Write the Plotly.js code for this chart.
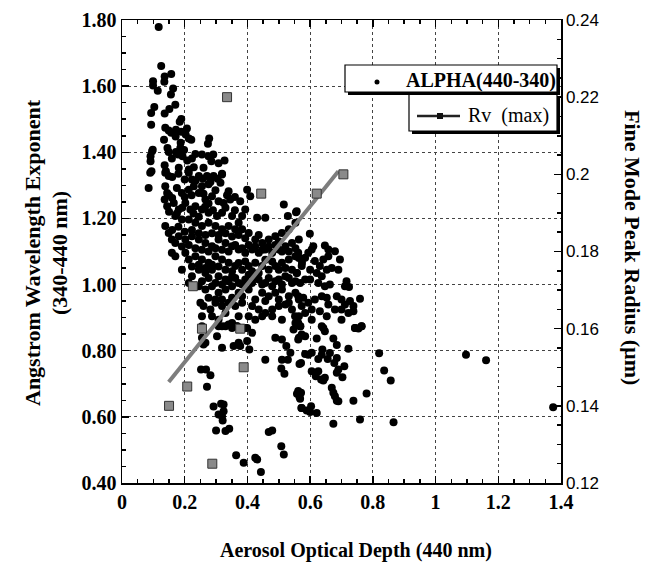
<!DOCTYPE html>
<html><head><meta charset="utf-8">
<script src="https://cdn.plot.ly/plotly-3.0.1.min.js"></script>
<style>body{margin:0;background:#fff}#chart{width:649px;height:563px}</style>
</head><body><div id="chart"></div>
<script>
// ALPHA(440-340) vs AOD(440), grouped by region
const aodA = [0.117,0.125,0.136,0.135,0.157,0.099,0.099,0.114,0.163,0.156,0.103,0.093,0.151,0.170,0.136,0.189,0.184,0.093,
  0.138,0.149,0.157,0.172,0.189,0.207,0.203,0.213,0.221,0.134,0.171,0.145,0.187,0.186,0.198,0.172,0.149,0.179,0.193,0.159,0.098,0.091,0.091,0.208,0.223,0.234,0.255,0.276,0.291,0.278,0.274,0.308,0.327,0.136,0.140,0.181,0.213,0.229,0.260,0.285,0.319,0.094,0.096];
const alphaA = [1.779,1.661,1.629,1.613,1.637,1.615,1.602,1.586,1.593,1.575,1.537,1.519,1.531,1.544,1.517,1.501,1.492,1.483,
  1.474,1.466,1.459,1.468,1.462,1.472,1.454,1.442,1.438,1.438,1.448,1.413,1.429,1.413,1.407,1.401,1.401,1.393,1.388,1.381,1.408,1.388,1.373,1.375,1.381,1.395,1.393,1.388,1.393,1.442,1.426,1.367,1.375,1.361,1.343,1.353,1.348,1.355,1.353,1.373,1.335,1.343,1.403];
const aodB = [0.090,0.138,0.149,0.213,0.223,0.245,0.271,0.292,0.319,0.314,0.276,0.340,0.085,0.138,0.144,0.136,0.144,0.175,0.191,0.213,0.229,0.245,0.255,0.266,0.287,0.308,0.324,0.345,0.377,0.399,0.409,0.393,0.383,0.372,0.351,0.319,0.303,0.276,0.255,0.234,0.218,0.202,0.181,0.165,0.170,0.191,0.213,0.234,0.255,0.276,0.298,0.319,0.340,0.361,0.383,0.404,0.425,0.447,0.468,0.489,0.510,0.532,0.553,0.516,0.555,0.529,0.431,0.457,
  0.138,0.149,0.159,0.170,0.181,0.202,0.223,0.245,0.266,0.287,0.308,0.330,0.351,0.372,0.393,0.415,0.436,0.457,0.479,0.500,0.521,0.542,0.564,
  0.159,0.170,0.202,0.213,0.234,0.255,0.276,0.298,0.319,0.340,0.361,0.383,0.404,0.425,0.447,0.468,0.489,0.510,0.532,0.553,0.574,
  0.191,0.223,0.245,0.266,0.287,0.308,0.330,0.351,0.372,0.393,0.415,0.436,0.457,0.479,0.500,0.521,0.542,0.558,
  0.213,0.245,0.266,0.287,0.308,0.330,0.351,0.372,0.404,0.447,0.468,0.489,0.510,0.532,0.553,0.564,
  0.250,0.260,0.282,0.298,0.319,0.340,0.361,0.383,0.415,0.436,0.457,0.479,0.500,0.521,0.542,
  0.255,0.287,0.308,0.330,0.351,0.372,0.404,0.425,0.447,0.479,0.510,0.553,0.564,
  0.255,0.319,0.340,0.367,0.393];
const alphaB = [1.338,1.338,1.328,1.338,1.318,1.328,1.328,1.328,1.333,1.308,1.303,1.282,1.292,1.297,1.277,1.257,1.237,1.292,1.277,1.287,1.297,1.277,1.297,1.257,1.267,1.252,1.247,1.257,1.252,1.287,1.267,1.227,1.207,1.187,1.207,1.217,1.207,1.217,1.227,1.237,1.227,1.247,1.227,1.247,1.207,1.197,1.197,1.187,1.177,1.187,1.177,1.167,1.177,1.167,1.167,1.156,1.136,1.126,1.136,1.146,1.156,1.167,1.187,1.242,1.219,1.207,1.202,1.202,
  1.177,1.156,1.136,1.126,1.146,1.136,1.146,1.136,1.126,1.116,1.136,1.126,1.116,1.106,1.096,1.106,1.096,1.106,1.096,1.106,1.116,1.126,1.136,
  1.096,1.086,1.096,1.076,1.086,1.076,1.066,1.086,1.076,1.066,1.056,1.045,1.056,1.066,1.056,1.045,1.056,1.066,1.076,1.086,1.066,
  1.045,1.025,1.045,1.035,1.045,1.025,1.015,1.025,1.005,1.015,1.005,1.015,1.005,0.995,1.015,1.025,1.005,1.035,
  1.005,0.995,0.985,0.995,0.975,0.985,0.995,0.975,0.985,0.975,0.965,0.975,0.985,0.965,0.975,0.955,
  0.945,0.935,0.925,0.945,0.935,0.945,0.935,0.945,0.935,0.925,0.914,0.925,0.935,0.940,0.925,
  0.904,0.904,0.894,0.914,0.884,0.904,0.904,0.894,0.904,0.904,0.894,0.884,0.904,
  0.874,0.874,0.879,0.874,0.869];
// dense core (overlapping points)
const aodF = [0.160,0.180,0.200,0.235,0.258,0.282,0.305,
  0.150,0.160,0.200,0.222,0.260,0.276,0.298,0.335,0.360,
  0.150,0.175,0.192,0.228,0.245,0.265,0.290,0.330,0.360,
  0.160,0.180,0.200,0.223,0.245,0.266,0.287,0.308,0.330,0.351,0.372,0.393,0.436,0.500,
  0.191,0.213,0.234,0.255,0.276,0.298,0.319,0.340,0.361,0.383,0.404,0.425,0.447,0.468,0.489,0.510,0.532,0.553,
  0.223,0.245,0.266,0.287,0.308,0.330,0.351,0.372,0.393,0.415,0.436,0.457,0.479,0.500,0.521,0.542,0.564,
  0.255,0.276,0.298,0.319,0.340,0.361,0.383,0.404,0.425,0.447,0.468,0.489,0.510,0.532,0.553,
  0.276,0.298,0.319,0.351,0.383,0.425,0.457,0.500,0.532];
const alphaF = [1.325,1.335,1.318,1.315,1.320,1.310,1.320,
  1.270,1.262,1.265,1.270,1.275,1.245,1.285,1.270,1.265,
  1.220,1.215,1.232,1.215,1.205,1.235,1.225,1.232,1.225,
  1.165,1.175,1.160,1.165,1.155,1.150,1.155,1.150,1.155,1.145,1.150,1.140,1.150,1.130,
  1.115,1.120,1.110,1.105,1.100,1.110,1.105,1.100,1.120,1.110,1.120,1.115,1.105,1.115,1.120,1.100,1.100,1.110,
  1.055,1.060,1.050,1.060,1.055,1.045,1.040,1.065,1.070,1.040,1.035,1.075,1.070,1.045,1.050,1.045,1.080,
  1.010,1.020,1.005,1.000,1.010,1.020,1.000,1.030,1.025,1.000,1.020,1.010,1.000,1.020,1.010,
  0.960,0.955,0.955,0.960,0.965,0.955,0.950,0.955,0.945];
const aodC = [0.308,0.330,0.351,0.367,0.399,0.415,0.303,0.319,0.356,0.372,0.377,0.255,0.266,0.260,0.399,0.406,0.489,0.510,0.524,0.537,0.547,0.564,0.569,0.457,0.510,0.529,0.508,0.518,0.566,0.252,0.268,0.282,0.271,0.292,0.316,0.324,0.324,0.308,0.319,0.321,0.300,0.330,0.342,0.468,0.479,0.508,0.516,0.364,0.388,0.425,0.431,0.443,0.558,0.566,0.572];
const alphaC = [0.874,0.874,0.869,0.874,0.869,0.854,0.844,0.809,0.814,0.824,0.814,0.839,0.824,0.819,0.829,0.804,0.839,0.834,0.814,0.794,0.864,0.839,0.874,0.773,0.773,0.773,0.746,0.730,0.760,0.743,0.743,0.726,0.691,0.631,0.640,0.637,0.617,0.607,0.602,0.589,0.559,0.557,0.564,0.554,0.559,0.511,0.486,0.484,0.461,0.476,0.471,0.433,0.670,0.660,0.627];
const aodD = [0.557,0.599,0.610,0.605,0.647,0.658,0.679,0.695,0.658,0.642,0.631,0.615,0.594,0.584,0.573,0.562,0.557,0.600,0.621,0.637,0.653,0.669,0.690,0.584,0.600,0.568,0.626,0.647,0.663,0.716,0.711,0.724,0.562,0.578,0.594,0.615,0.637,0.653,0.658,0.685,0.700,0.711,0.727,0.738,0.759,0.573,0.584,0.605,0.631,0.653,0.679,0.700,0.722,0.738,0.562,0.605,0.637,0.700,0.743,0.764,0.552];
const alphaD = [1.222,1.154,1.116,1.106,1.118,1.106,1.101,1.076,1.086,1.076,1.056,1.071,1.096,1.081,1.056,1.096,1.035,1.045,1.035,1.025,1.045,1.050,1.045,1.015,1.015,1.005,1.005,0.995,1.000,1.010,0.995,0.993,0.965,0.960,0.945,0.955,0.965,0.960,0.940,0.965,0.955,0.940,0.950,0.935,0.957,0.935,0.914,0.925,0.919,0.904,0.925,0.925,0.914,0.919,0.884,0.894,0.874,0.894,0.869,0.874,0.904];
const aodE = [0.568,0.562,0.573,0.584,0.621,0.642,0.647,0.674,0.685,0.722,0.743,0.754,0.764,0.584,0.594,0.605,0.626,0.639,0.637,0.656,0.663,0.677,0.685,0.709,0.690,0.685,0.703,0.571,0.605,0.626,0.618,0.635,0.647,0.642,0.669,0.674,0.679,0.685,0.690,0.562,0.571,0.568,0.573,0.589,0.600,0.603,0.621,0.738,0.780,0.674,0.759,0.820,0.836,0.857,0.866,1.097,1.161,1.375];
const alphaE = [0.874,0.834,0.849,0.844,0.837,0.869,0.859,0.837,0.817,0.806,0.869,0.867,0.874,0.790,0.788,0.794,0.775,0.804,0.788,0.775,0.793,0.763,0.778,0.753,0.743,0.733,0.720,0.763,0.738,0.738,0.723,0.713,0.718,0.710,0.688,0.673,0.662,0.649,0.647,0.678,0.673,0.655,0.627,0.619,0.615,0.632,0.612,0.649,0.671,0.579,0.592,0.792,0.740,0.710,0.584,0.788,0.771,0.629];

// Rv (max) – fine mode peak radius (right axis)
const aodRv = [0.150,0.208,0.226,0.255,0.288,0.335,0.377,0.388,0.444,0.621,0.706];
const rvMax = [0.140,0.145,0.171,0.160,0.125,0.220,0.160,0.150,0.195,0.195,0.200];
// fitted line through Rv (max)
const fitAod = [0.149,0.690];
const fitRv = [0.1462,0.2008];

// tick labels
const xTickVals = [0,0.2,0.4,0.6,0.8,1.0,1.2,1.4];
const xTickText = ["0","0.2","0.4","0.6","0.8","1","1.2","1.4"];
const yTickVals = [0.4,0.6,0.8,1.0,1.2,1.4,1.6,1.8];
const yTickText = ["0.40","0.60","0.80","1.00","1.20","1.40","1.60","1.80"];
const y2TickVals = [0.12,0.14,0.16,0.18,0.20,0.22,0.24];
const y2TickText = ["0.12","0.14","0.16","0.18","0.2","0.22","0.24"];

const aod = [].concat(aodA, aodB, aodF, aodC, aodD, aodE);
const alpha = [].concat(alphaA, alphaB, alphaF, alphaC, alphaD, alphaE);

const serif = 'Liberation Serif';
const sans = 'Liberation Sans';
const W = 649, H = 563, ML = 122, MR = 88, MT = 20, MB = 80;
const PW = W - ML - MR, PH = H - MT - MB;
const px = v => (v - ML) / PW;
const py = v => (H - MB - v) / PH;

const traces = [
  {x: aod, y: alpha, type: 'scatter', mode: 'markers', yaxis: 'y',
   marker: {color: '#000', size: 8}, hoverinfo: 'skip'},
  {x: fitAod, y: fitRv, type: 'scatter', mode: 'lines', yaxis: 'y2',
   line: {color: '#7d7d7d', width: 4}, hoverinfo: 'skip'},
  {x: aodRv, y: rvMax, type: 'scatter', mode: 'markers', yaxis: 'y2',
   marker: {symbol: 'square', size: 9, color: '#8a8a8a', line: {color: '#333', width: 1}}, hoverinfo: 'skip'}
];

const axBase = {
  ticks: 'inside', ticklen: 7, tickwidth: 1.5, tickcolor: '#000',
  showline: true, linewidth: 1.5, linecolor: '#000', zeroline: false,
  tickmode: 'array'
};

const layout = {
  width: W, height: H, showlegend: false,
  margin: {l: ML, r: MR, t: MT, b: MB},
  paper_bgcolor: '#fff', plot_bgcolor: '#fff',
  xaxis: Object.assign({}, axBase, {
    range: [0, 1.4], tickvals: xTickVals, ticktext: xTickText, mirror: 'ticks',
    showgrid: true, gridcolor: '#444', griddash: 'dot', gridwidth: 1,
    tickfont: {family: serif, size: 20, weight: 'bold', color: '#000'},
    minor: {tickmode: 'linear', tick0: 0, dtick: 0.05, ticks: 'inside', ticklen: 4, tickcolor: '#000', showgrid: false}
  }),
  yaxis: Object.assign({}, axBase, {
    range: [0.4, 1.8], tickvals: yTickVals, ticktext: yTickText,
    showgrid: true, gridcolor: '#444', griddash: 'dot', gridwidth: 1,
    tickfont: {family: serif, size: 20, weight: 'bold', color: '#000'},
    minor: {tickmode: 'linear', tick0: 0.4, dtick: 0.05, ticks: 'inside', ticklen: 4, tickcolor: '#000', showgrid: false}
  }),
  yaxis2: Object.assign({}, axBase, {
    overlaying: 'y', side: 'right', range: [0.12, 0.24],
    tickvals: y2TickVals, ticktext: y2TickText, showgrid: false,
    tickfont: {family: sans, size: 17, color: '#000'},
    minor: {tickmode: 'linear', tick0: 0.12, dtick: 0.005, ticks: 'inside', ticklen: 4, tickcolor: '#000', showgrid: false}
  }),
  shapes: [
    {type: 'rect', xref: 'paper', yref: 'paper', x0: px(412), x1: px(560), y0: py(134), y1: py(96), fillcolor: '#000', line: {width: 0}},
    {type: 'rect', xref: 'paper', yref: 'paper', x0: px(409), x1: px(557), y0: py(131), y1: py(93), fillcolor: '#fff', line: {color: '#000', width: 1.2}},
    {type: 'rect', xref: 'paper', yref: 'paper', x0: px(348), x1: px(560), y0: py(95), y1: py(68), fillcolor: '#000', line: {width: 0}},
    {type: 'rect', xref: 'paper', yref: 'paper', x0: px(345), x1: px(557), y0: py(92), y1: py(65), fillcolor: '#fff', line: {color: '#000', width: 1.2}},
    {type: 'circle', xref: 'paper', yref: 'paper', x0: px(374.5), x1: px(379.5), y0: py(84.5), y1: py(79.5), fillcolor: '#000', line: {width: 0}},
    {type: 'line', xref: 'paper', yref: 'paper', x0: px(417), x1: px(460), y0: py(116), y1: py(116), line: {color: '#222', width: 2.5}},
    {type: 'rect', xref: 'paper', yref: 'paper', x0: px(437), x1: px(443), y0: py(119), y1: py(113), fillcolor: '#111', line: {width: 0}}
  ],
  annotations: [
    {text: 'ALPHA(440-340)', xref: 'paper', yref: 'paper', x: px(404), y: py(80), xanchor: 'left', yanchor: 'middle', showarrow: false,
     font: {family: serif, size: 20, weight: 'bold', color: '#000'}},
    {text: 'Rv  (max)', xref: 'paper', yref: 'paper', x: px(466), y: py(115), xanchor: 'left', yanchor: 'middle', showarrow: false,
     font: {family: serif, size: 20, color: '#000'}},
    {text: 'Angstrom Wavelength Exponent', xref: 'paper', yref: 'paper', x: px(33), y: py(253), xanchor: 'center', yanchor: 'middle', textangle: -90, showarrow: false,
     font: {family: serif, size: 22, weight: 'bold', color: '#000'}},
    {text: '(340-440 nm)', xref: 'paper', yref: 'paper', x: px(60), y: py(253), xanchor: 'center', yanchor: 'middle', textangle: -90, showarrow: false,
     font: {family: serif, size: 22, weight: 'bold', color: '#000'}},
    {text: 'Aerosol Optical Depth (440 nm)', xref: 'paper', yref: 'paper', x: px(356), y: py(550), xanchor: 'center', yanchor: 'middle', showarrow: false,
     font: {family: serif, size: 20, weight: 'bold', color: '#000'}},
    {text: 'Fine Mode Peak Radius (µm)', xref: 'paper', yref: 'paper', x: px(633), y: py(247), xanchor: 'center', yanchor: 'middle', textangle: 90, showarrow: false,
     font: {family: serif, size: 22, weight: 'bold', color: '#000'}}
  ]
};

Plotly.newPlot('chart', traces, layout, {staticPlot: true, displayModeBar: false});
</script>
</body></html>
